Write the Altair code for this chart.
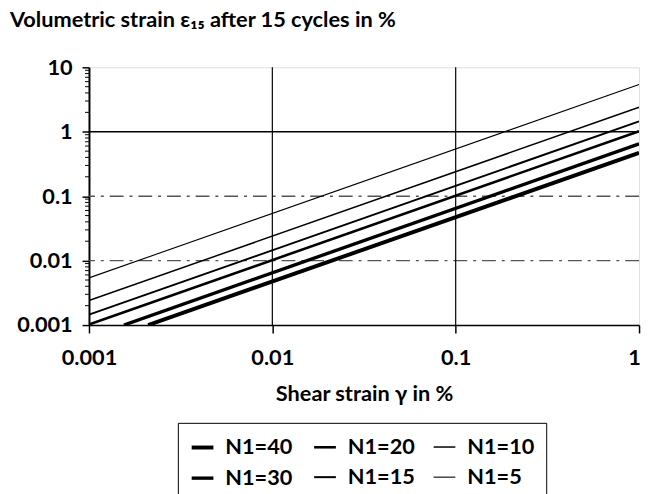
import altair as alt
import pandas as pd

# ---- data ----
series = ["N1=40", "N1=30", "N1=20", "N1=15", "N1=10", "N1=5"]
gamma_start = [0.0021, 0.00155, 0.001, 0.001, 0.001, 0.001]
eps_start = [0.001, 0.001, 0.00102, 0.00145, 0.0024, 0.0054]
gamma_end = [1, 1, 1, 1, 1, 1]
eps_end = [0.47, 0.65, 1.02, 1.45, 2.4, 5.4]

x_ticks = [0.001, 0.01, 0.1, 1]
y_ticks = [0.001, 0.01, 0.1, 1, 10]
y_minor = [m * d for d in [0.001, 0.01, 0.1, 1] for m in [2, 3, 4, 5, 6, 7, 8, 9]]
hgrid_solid = [1]
hgrid_dashed = [0.1, 0.01]
vgrid = [0.01, 0.1]

width_range = [4.0, 3.4, 2.6, 2.0, 1.5, 1.1]

rows = []
for s, xs, ys, xe, ye in zip(series, gamma_start, eps_start, gamma_end, eps_end):
    rows.append({"series": s, "gamma": xs, "eps": ys})
    rows.append({"series": s, "gamma": xe, "eps": ye})
lines_df = pd.DataFrame(rows)

FONT = "Lato"
xscale = alt.Scale(type="log", domain=[0.001, 1], nice=False)
yscale = alt.Scale(type="log", domain=[0.001, 10], nice=False)

x_axis = alt.Axis(
    values=x_ticks, labelExpr="toString(datum.value)", grid=False,
    title="Shear strain γ in %", labelFlush=False,
    labelOffset={"condition": {"test": "datum.value == 1", "value": -5}, "value": 0},
    labelFont=FONT, labelFontSize=22, labelFontWeight="bold", labelColor="black",
    tickSize=8, tickWidth=1.5, tickColor="black", labelPadding=15,
    domainColor="black", domainWidth=1.5,
    titleFont=FONT, titleFontSize=22, titleFontWeight="bold", titleColor="black",
    titleY=76, titleBaseline="alphabetic",
)
y_axis = alt.Axis(
    values=y_ticks, labelExpr="toString(datum.value)", grid=False, title=None,
    labelFont=FONT, labelFontSize=22, labelFontWeight="bold", labelColor="black",
    tickSize=7, tickWidth=1.5, tickColor="black", labelPadding=10,
    domainColor="black", domainWidth=2, labelFlush=False,
)

legend = alt.Legend(
    title=None, orient="none", legendX=90, legendY=360, columns=3,
    symbolType="stroke", symbolSize=484, symbolStrokeColor="black",
    labelFont=FONT, labelFontSize=22, labelFontWeight="bold", labelColor="black",
    labelOffset=10, strokeColor="black", padding=12, rowPadding=7, columnPadding=16,
    fillColor="white",
)

lines = alt.Chart(lines_df).mark_line(clip=True, color="black").encode(
    x=alt.X("gamma:Q", scale=xscale, axis=x_axis),
    y=alt.Y("eps:Q", scale=yscale, axis=y_axis),
    strokeWidth=alt.StrokeWidth("series:N", scale=alt.Scale(type="ordinal", domain=series, range=width_range), legend=legend),
)

h_solid = alt.Chart(pd.DataFrame({"v": hgrid_solid})).mark_rule(color="black", strokeWidth=1.6).encode(
    y=alt.Y("v:Q", scale=yscale, axis=y_axis))
h_dash = alt.Chart(pd.DataFrame({"v": hgrid_dashed})).mark_rule(
    color="#555555", strokeWidth=1.5, strokeDash=[14, 6, 3, 6]).encode(
    y=alt.Y("v:Q", scale=yscale, axis=y_axis))
v_solid = alt.Chart(pd.DataFrame({"v": vgrid})).mark_rule(color="black", strokeWidth=1.2).encode(
    x=alt.X("v:Q", scale=xscale, axis=x_axis))
minor = alt.Chart(pd.DataFrame({"v": y_minor})).mark_rule(color="black", strokeWidth=1, clip=False).encode(
    y=alt.Y("v:Q", scale=yscale, axis=y_axis), x=alt.value(-4), x2=alt.value(0))

chart = alt.layer(h_solid, h_dash, v_solid, minor, lines).properties(
    width=557, height=261,
    autosize="none",
    padding={"left": 82, "top": 57, "right": 4, "bottom": 168},
    title=alt.TitleParams(
        "Volumetric strain ε₁₅ after 15 cycles in %", anchor="start", frame="group", dx=-80,
        font=FONT, fontSize=22, fontWeight="bold", color="black", offset=25,
    ),
).configure_view(stroke="black", strokeWidth=1.6).configure(background="white")

chart.save("out.html", embed_options={"renderer": "svg", "actions": False})
